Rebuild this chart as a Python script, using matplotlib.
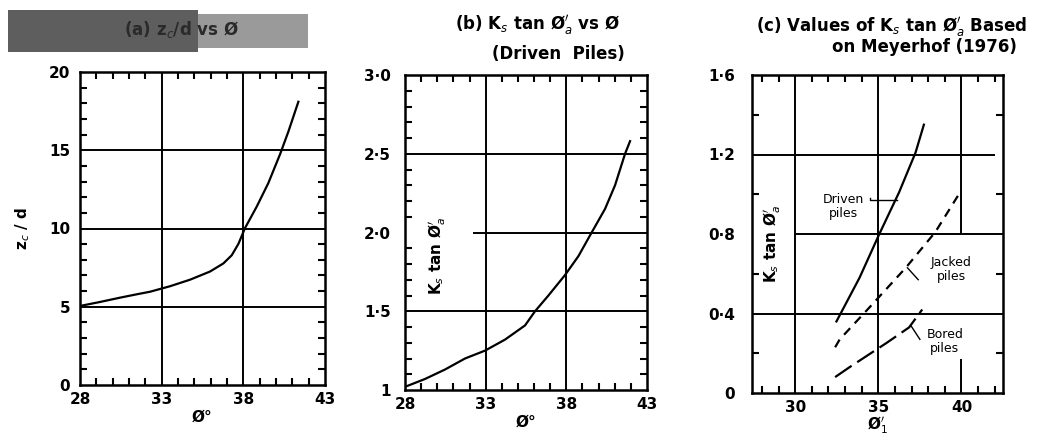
import matplotlib
matplotlib.use("Agg")
import matplotlib.pyplot as plt
import matplotlib.patches as patches
from matplotlib.ticker import MultipleLocator

# (a) z_c/d vs phi
phi_a = [28, 29.2, 30.45, 31.4, 32.29, 33.51, 34.74, 35.96, 36.78, 37.29, 37.7,
         38.1, 38.82, 39.53, 40.25, 40.76, 41.37]
zcd = [5.05, 5.3, 5.58, 5.78, 5.96, 6.31, 6.73, 7.25, 7.77, 8.29, 9.02,
       10.02, 11.4, 12.9, 14.75, 16.2, 18.1]

# (b) Ks tan phi_a vs phi (driven piles)
phi_b = [28.0, 29.24, 30.48, 31.72, 32.96, 34.2, 35.44, 36.06, 36.89, 37.92,
         38.75, 39.57, 40.4, 41.02, 41.64, 41.95]
ks_b = [1.02, 1.07, 1.13, 1.20, 1.25, 1.32, 1.41, 1.50, 1.60, 1.73,
        1.85, 2.00, 2.15, 2.30, 2.50, 2.58]

# (c) Meyerhof (1976)
phi_driven = [32.48, 33.87, 35.06, 36.25, 37.24, 37.74]
ks_driven = [0.36, 0.58, 0.80, 1.01, 1.21, 1.35]
phi_jacked = [32.4, 32.68, 34.46, 36.65, 38.43, 39.92]
ks_jacked = [0.23, 0.27, 0.43, 0.63, 0.81, 1.01]
phi_bored = [32.4, 33.27, 35.46, 36.85, 37.64]
ks_bored = [0.08, 0.13, 0.25, 0.33, 0.42]

W, H = 1046, 445
fig = plt.figure(figsize=(W / 100, H / 100), dpi=100)
fig.patch.set_facecolor("white")
fs = 11
fs_title = 12
lw_grid = 1.4
lw_curve = 1.6


def make_ax(l, r, t, b, ypad):
    ax = fig.add_axes([l / W, 1 - b / H, (r - l) / W, (b - t) / H])
    for s in ax.spines.values():
        s.set_linewidth(1.8)
    ax.tick_params(which="both", direction="in", top=True, right=True,
                   labelsize=fs)
    ax.tick_params(which="major", length=0)
    ax.tick_params(axis="x", which="major", pad=5)
    ax.tick_params(axis="y", which="major", pad=ypad)
    ax.tick_params(which="minor", length=5, width=1.5)
    return ax


def bold_ticks(ax):
    for t in ax.get_xticklabels() + ax.get_yticklabels():
        t.set_fontweight("bold")


# ---- (a)
ax = make_ax(80, 325, 72, 385, 7)
ax.set_xlim(28, 43)
ax.set_ylim(0, 20)
ax.set_xticks([28, 33, 38, 43])
ax.set_yticks([0, 5, 10, 15, 20])
ax.xaxis.set_minor_locator(MultipleLocator(1))
ax.yaxis.set_minor_locator(MultipleLocator(1))
for v in [33, 38]:
    ax.axvline(v, color="k", lw=lw_grid)
for v in [5, 10, 15]:
    ax.axhline(v, color="k", lw=lw_grid)
ax.plot(phi_a, zcd, color="k", lw=lw_curve)
ax.set_xlabel("Ø°", fontsize=fs, labelpad=2, fontweight="bold")
ax.set_ylabel("z$_c$ / d", fontsize=fs, labelpad=12, fontweight="bold")
bold_ticks(ax)
fig.patches.append(patches.Rectangle((8 / W, 1 - 52 / H), 190 / W, 42 / H,
                                     transform=fig.transFigure,
                                     facecolor="#5e5e5e", edgecolor="none"))
fig.patches.append(patches.Rectangle((198 / W, 1 - 48 / H), 110 / W, 34 / H,
                                     transform=fig.transFigure,
                                     facecolor="#9a9a9a", edgecolor="none"))
fig.text(181 / W, 1 - 30 / H, "(a) z$_c$/d vs Ø", fontsize=fs_title,
         ha="center", va="center", color="#2a2a2a", fontweight="bold")

# ---- (b)
ax = make_ax(405, 647, 75, 390, 10)
ax.set_xlim(28, 43)
ax.set_ylim(1, 3)
ax.set_xticks([28, 33, 38, 43])
ax.set_yticks([1, 1.5, 2, 2.5, 3])
ax.set_yticklabels(["1", "1·5", "2·0", "2·5", "3·0"])
ax.xaxis.set_minor_locator(MultipleLocator(1))
ax.yaxis.set_minor_locator(MultipleLocator(0.1))
for v in [33, 38]:
    ax.axvline(v, color="k", lw=lw_grid)
for v in [1.5, 2.5]:
    ax.axhline(v, color="k", lw=lw_grid)
ax.hlines(2.0, 32.2, 43, color="k", lw=lw_grid)
ax.plot(phi_b, ks_b, color="k", lw=lw_curve)
ax.set_xlabel("Ø°", fontsize=fs, labelpad=2, fontweight="bold")
ax.text(30.0, 1.85, "K$_s$ tan Ø$_a^{\\prime}$", rotation=90, fontsize=fs,
        ha="center", va="center", fontweight="bold")
bold_ticks(ax)
fig.text(538 / W, 1 - 25 / H, "(b) K$_s$ tan Ø$_a^{\\prime}$ vs Ø",
         fontsize=fs_title, ha="center", va="center", fontweight="bold")
fig.text(558 / W, 1 - 54 / H, "(Driven  Piles)", fontsize=fs_title,
         ha="center", va="center", fontweight="bold")

# ---- (c)
ax = make_ax(752, 1003, 75, 393, 12)
ax.set_xlim(27.4, 42.5)
ax.set_ylim(0, 1.6)
ax.set_xticks([30, 35, 40])
ax.set_yticks([0, 0.4, 0.8, 1.2, 1.6])
ax.set_yticklabels(["0", "0·4", "0·8", "1·2", "1·6"])
ax.xaxis.set_minor_locator(MultipleLocator(1))
ax.yaxis.set_minor_locator(MultipleLocator(0.2))
ax.axvline(30, color="k", lw=lw_grid)
ax.axvline(35, color="k", lw=lw_grid)
ax.vlines(40, 0.8, 1.6, color="k", lw=lw_grid)
ax.vlines(40, 0, 0.17, color="k", lw=lw_grid)
ax.hlines(1.2, 27.4, 42.0, color="k", lw=lw_grid)
ax.hlines(0.8, 30, 42.5, color="k", lw=lw_grid)
ax.axhline(0.4, color="k", lw=lw_grid)
ax.plot(phi_driven, ks_driven, color="k", lw=lw_curve)
ax.plot(phi_jacked, ks_jacked, color="k", lw=lw_curve, ls=(0, (4, 3)))
ax.plot(phi_bored, ks_bored, color="k", lw=lw_curve, ls=(0, (9, 3)))
ax.text(32.9, 0.94, "Driven\npiles", fontsize=9, ha="center", va="center",
        linespacing=1.1)
ax.plot([34.5, 34.5, 36.15], [0.98, 0.97, 0.97], color="k", lw=1.0)
ax.text(39.4, 0.62, "Jacked\npiles", fontsize=9, ha="center", va="center",
        linespacing=1.1)
ax.plot([36.75, 37.4], [0.63, 0.57], color="k", lw=1.0)
ax.text(39.0, 0.26, "Bored\npiles", fontsize=9, ha="center", va="center",
        linespacing=1.1)
ax.plot([36.95, 37.5], [0.34, 0.27], color="k", lw=1.0)
ax.set_xlabel("Ø$_1^{\\prime}$", fontsize=fs, labelpad=0, fontweight="bold")
ax.text(28.6, 0.75, "K$_s$ tan Ø$_a^{\\prime}$", rotation=90, fontsize=fs,
        ha="center", va="center", fontweight="bold")
bold_ticks(ax)
fig.text(892 / W, 1 - 27 / H, "(c) Values of K$_s$ tan Ø$_a^{\\prime}$ Based",
         fontsize=fs_title, ha="center", va="center", fontweight="bold")
fig.text(924 / W, 1 - 47 / H, "on Meyerhof (1976)", fontsize=fs_title,
         ha="center", va="center", fontweight="bold")

fig.savefig("out.png", dpi=100, facecolor="white")
